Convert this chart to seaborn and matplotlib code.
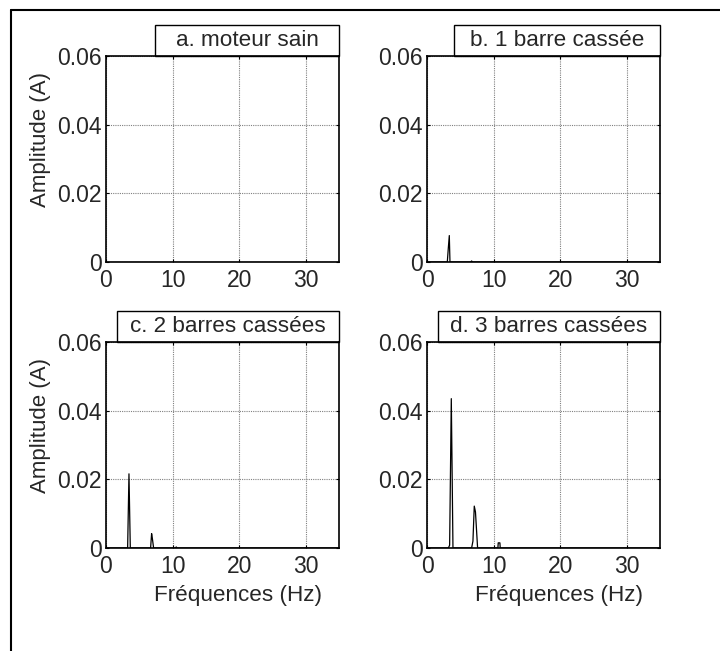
import matplotlib

matplotlib.use("Agg")
import matplotlib.pyplot as plt
from matplotlib.lines import Line2D
from matplotlib.patches import Rectangle
import seaborn as sns

# ===================== données =====================
titres = ["a. moteur sain", "b. 1 barre cassée", "c. 2 barres cassées", "d. 3 barres cassées"]

freq_a = [0, 5, 10, 15, 20, 25, 30, 35]
amp_a = [0, 0, 0, 0, 0, 0, 0, 0]

freq_b = [0, 3.05, 3.2, 3.35, 3.45, 6.55, 6.7, 6.85, 35]
amp_b = [0, 0, 0.0040, 0.0077, 0, 0, 0.0003, 0, 0]

freq_c = [0, 3.25, 3.45, 3.65, 6.7, 6.85, 6.95, 7.15, 10.4, 10.55, 10.7, 35]
amp_c = [0, 0, 0.0216, 0, 0, 0.0042, 0.0030, 0, 0, 0.0003, 0, 0]

freq_d = [0, 3.2, 3.4, 3.65, 3.9, 6.7, 6.9, 7.1, 7.28, 7.6, 10.65, 10.7, 10.95, 11.0, 35]
amp_d = [0, 0, 0.0008, 0.0435, 0, 0, 0.0020, 0.0122, 0.0105, 0, 0, 0.0015, 0.0015, 0, 0]

series = [(freq_a, amp_a), (freq_b, amp_b), (freq_c, amp_c), (freq_d, amp_d)]

x_ticks = [0, 10, 20, 30]
y_ticks = [0, 0.02, 0.04, 0.06]
y_tick_labels = ["0", "0.02", "0.04", "0.06"]

# ===================== style =====================
sns.set_theme(style="white")
plt.rcParams["font.family"] = ["Liberation Sans", "DejaVu Sans"]
plt.rcParams["font.size"] = 16

fig = plt.figure(figsize=(7.2, 6.51), dpi=100)

W, H = 720, 651
positions = [(106, 56), (427, 56), (106, 342), (427, 342)]  # coin haut-gauche en px
aw, ah = 233, 206
box_left = [0.21, 0.116, 0.047, 0.047]

for i, ((fx, fy), (f, a)) in enumerate(zip(positions, series)):
    ax = fig.add_axes([fx / W, 1 - (fy + ah) / H, aw / W, ah / H])
    sns.lineplot(x=f, y=a, ax=ax, color="black", linewidth=0.9, estimator=None, sort=False)
    ax.set_xlim(0, 35)
    ax.set_ylim(0, 0.06)
    ax.set_xticks(x_ticks)
    ax.set_yticks(y_ticks)
    ax.set_yticklabels(y_tick_labels)
    ax.tick_params(axis="both", labelsize=16.5, direction="in", length=2, width=0.8,
                   top=True, right=True, bottom=True, left=True, color="black")
    ax.tick_params(axis="x", pad=5)
    ax.tick_params(axis="y", pad=3)
    ax.grid(True, color="0.5", linestyle=(0, (1, 1)), linewidth=0.8)
    for s in ax.spines.values():
        s.set_color("black")
        s.set_linewidth(1.2)
    ax.set_xlabel("")
    ax.set_ylabel("")

    if i in (0, 2):
        ax.text(-0.279, 0.594, "Amplitude (A)", transform=ax.transAxes, rotation=90,
                ha="center", va="center", fontsize=16)
    if i in (2, 3):
        ax.text(0.566, -0.233, "Fréquences (Hz)", transform=ax.transAxes,
                ha="center", va="center", fontsize=16.2)

    # boîte du titre
    bh = 31 / ah
    ax.add_patch(Rectangle((box_left[i], 1.0), 1.0 - box_left[i], bh, transform=ax.transAxes,
                           facecolor="white", edgecolor="black", linewidth=1.0, clip_on=False))
    ax.text((box_left[i] + 1.0) / 2, 1.0 + bh / 2, titres[i], transform=ax.transAxes,
            ha="center", va="center", fontsize=16.2)

# cadre de la figure (haut et gauche)
fig.add_artist(Line2D([11 / W, 1.0], [1 - 10 / H, 1 - 10 / H], transform=fig.transFigure,
                      color="black", linewidth=1.5))
fig.add_artist(Line2D([11 / W, 11 / W], [0.0, 1 - 10 / H], transform=fig.transFigure,
                      color="black", linewidth=1.5))

fig.savefig("out.png", dpi=100, facecolor="white")
